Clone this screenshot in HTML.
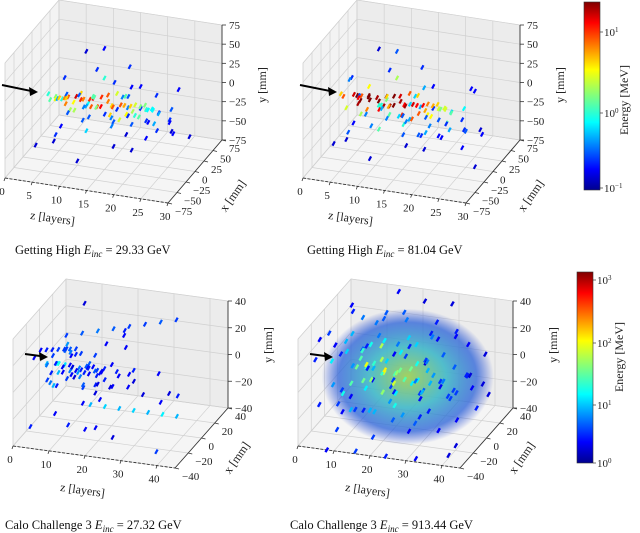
<!DOCTYPE html>
<html><head><meta charset="utf-8">
<style>
html,body{margin:0;padding:0;background:#fff;}
svg{display:block;font-family:"Liberation Serif",serif;}
.tk{font-size:11px;fill:#222;}
.al{font-size:12px;fill:#222;}
.tt{font-size:12.5px;fill:#111;}
</style></head><body>
<svg id="fig" width="640" height="533" viewBox="0 0 640 533" xmlns="http://www.w3.org/2000/svg">
<defs>
<linearGradient id="jetv" x1="0" y1="1" x2="0" y2="0">
<stop offset="0" stop-color="#00008f"/><stop offset="0.11" stop-color="#0000ff"/>
<stop offset="0.36" stop-color="#00ffff"/><stop offset="0.5" stop-color="#7fff7f"/>
<stop offset="0.64" stop-color="#ffff00"/><stop offset="0.89" stop-color="#ff0000"/>
<stop offset="1" stop-color="#800000"/></linearGradient>
<radialGradient id="haze"><stop offset="0" stop-color="#a0d058" stop-opacity="0.95"/><stop offset="0.45" stop-color="#40b8c8" stop-opacity="0.9"/><stop offset="0.8" stop-color="#2860d8" stop-opacity="0.75"/><stop offset="1" stop-color="#2040d0" stop-opacity="0"/></radialGradient>
</defs>
<g id="layer"></g>
</svg>
<script>
// ---- data (z [layer], x [mm], y [mm], log10 Energy [MeV]) ----
const zTicks1=[0,5,10,15,20,25,30];
const xyTicks1=[-75,-50,-25,0,25,50,75];
const zTicks3=[0,10,20,30,40];
const xyTicks3=[-40,-20,0,20,40];
const titles=["29.33","81.04","27.32","913.44"];
const pts1=[[3,0,-3,0.0],[4,5,-8,0.2],[5,-10,-2,0.5],[5,8,-12,0.0],[6,0,-5,0.8],[6,-20,5,-0.3],[7,10,-15,0.5],[7,-5,0,0.9],[8,15,-5,0.6],[8,-15,-10,0.3],[9,0,-4,1.0],[9,20,-20,-0.1],[10,-8,2,0.8],[10,10,-8,1.0],[11,-25,-15,-0.5],[11,5,-3,1.1],[12,0,-10,0.9],[12,-12,10,0.1],[13,15,-2,0.9],[13,-5,-6,1.1],[14,25,-25,-0.6],[14,0,-1,0.8],[15,-10,-12,0.6],[15,10,5,0.4],[16,5,-6,0.9],[16,-20,-20,-0.4],[17,0,-3,0.7],[17,20,10,-0.7],[18,-10,-8,0.5],[18,8,-14,0.3],[19,0,0,0.4],[19,-25,-25,-0.8],[20,12,-6,0.2],[20,-5,-12,0.1],[21,0,-4,0.0],[22,20,-18,-0.6],[22,-10,2,-0.1],[23,5,-10,-0.3],[24,-15,-20,-0.6],[25,10,-5,-0.5],[26,0,-30,-0.7],[27,-20,-15,-0.8],[28,15,-40,-0.8],[8,-30,40,-0.6],[10,0,60,-0.8],[12,20,55,-0.7],[9,-40,25,-0.5],[14,-10,35,0.0],[16,30,30,-0.6],[18,-20,20,-0.4],[20,0,25,-0.7],[22,-30,15,-0.6],[13,30,-45,-0.5],[6,-30,-45,-0.8],[4,20,-55,-0.7],[11,-40,-60,-0.8],[19,30,-60,-0.7],[24,20,-25,-0.6],[26,-10,-10,-0.7],[21,-40,-35,-0.8],[15,40,-30,-0.4],[7,-40,-30,-0.6],[10,30,20,-0.6],[17,-30,-40,-0.8],[23,-30,0,-0.6],[25,30,10,-0.7],[12,-30,-25,-0.2],[8,30,-30,-0.3],[2,-20,-60,-0.8],[6,5,-8,0.6],[7,-12,-5,0.8],[8,2,-2,1.2],[9,-18,-8,0.3],[10,22,-12,0.1],[11,-2,-10,0.9],[12,12,-4,1.0],[13,-18,0,0.2],[14,10,-12,0.6],[15,-2,-6,0.9],[16,18,-2,0.1],[17,-14,-14,0.4],[18,2,-4,0.6],[19,14,-10,0.2],[20,-16,-4,0.0],[21,16,-12,-0.1],[22,4,-6,-0.1],[23,-8,-16,-0.3],[5,0,-6,0.6],[4,-10,-4,0.1],[9,8,-18,-0.4],[11,-8,-20,-0.5],[13,6,-22,-0.6],[15,-6,-18,-0.4],[17,10,-22,-0.6],[19,-10,-20,-0.5],[21,6,-24,-0.7],[7,-6,-20,-0.5],[10,-20,14,-0.5],[14,18,14,-0.6],[18,-4,12,-0.5],[22,14,8,-0.6]];
const pts2=[[2,0,-4,0.6],[3,-8,-2,0.9],[4,6,-6,1.2],[4,-15,-12,0.4],[5,0,-3,1.4],[5,12,-10,0.9],[6,-6,-5,1.4],[6,18,0,0.5],[7,2,-4,1.4],[7,-20,-14,0.3],[8,10,-8,1.3],[8,-10,0,1.4],[9,0,-6,1.4],[9,22,-16,0.2],[10,-14,-8,1.1],[10,6,-2,1.4],[11,0,-10,1.3],[11,-24,4,0.0],[12,14,-4,1.2],[12,-4,-6,1.4],[13,26,-20,-0.2],[13,0,-2,1.3],[14,-12,-12,1.0],[14,10,4,0.9],[15,4,-6,1.2],[15,-22,-18,0.0],[16,0,-4,1.1],[16,20,8,-0.3],[17,-10,-8,0.9],[17,8,-14,0.7],[18,0,0,0.8],[18,-26,-26,-0.5],[19,12,-6,0.6],[19,-6,-12,0.5],[20,0,-4,0.4],[21,20,-18,-0.2],[21,-10,2,0.2],[22,5,-10,0.1],[23,-15,-20,-0.3],[24,10,-5,-0.1],[25,0,-28,-0.5],[26,-20,-14,-0.6],[27,15,-38,-0.7],[28,-5,-20,-0.8],[6,-30,38,-0.6],[9,0,62,-0.8],[11,20,50,-0.5],[8,-40,22,-0.5],[13,-10,34,0.3],[15,30,28,-0.6],[17,-20,20,-0.2],[19,0,24,-0.7],[21,-30,14,-0.6],[12,30,-46,-0.4],[5,-30,-44,-0.8],[3,20,-52,-0.7],[10,-40,-58,-0.8],[18,30,-58,-0.7],[23,20,-26,-0.6],[25,-10,-44,-0.7],[20,-40,-35,-0.8],[14,40,-30,-0.3],[6,-40,-28,-0.5],[9,30,18,-0.6],[16,-30,-40,-0.8],[22,-30,0,-0.5],[24,30,10,-0.7],[11,-30,-24,0.1],[7,30,-30,0.0],[2,-20,-58,-0.8],[5,4,-8,1.1],[6,-12,-6,1.3],[7,2,-2,1.4],[8,-18,-8,0.8],[9,22,-12,0.6],[10,-2,-10,1.3],[11,12,-4,1.4],[12,-18,0,0.7],[13,10,-12,1.1],[14,-2,-6,1.3],[15,18,-2,0.6],[16,-14,-14,0.9],[17,2,-4,1.1],[18,14,-10,0.7],[19,-16,-4,0.5],[20,16,-12,0.4],[21,4,-6,0.4],[22,-8,-16,0.1],[12,10,-28,-0.2],[14,-8,-40,-0.5],[16,12,-50,-0.6],[18,-6,-34,-0.3],[20,8,-46,-0.7],[8,-6,-36,-0.4],[10,14,-30,0.1],[4,-6,20,-0.4],[26,10,20,-0.7],[28,-20,-60,-0.8],[9,8,-20,-0.3],[11,-8,-22,-0.4],[13,6,-24,-0.5],[15,-6,-20,-0.3],[17,10,-24,-0.5],[19,-10,-22,-0.4],[21,6,-26,-0.6],[7,-6,-22,-0.4]];
const pts3=[[2,0,0,1.0],[3,-5,2,0.8],[4,5,-2,1.2],[4,-10,-6,0.6],[5,2,0,1.3],[5,12,4,0.7],[6,-4,-3,1.0],[6,8,8,0.6],[7,0,1,1.2],[7,-12,-8,0.5],[8,6,-4,0.9],[8,-6,4,1.1],[9,0,-1,1.0],[9,14,-10,0.5],[10,-8,2,0.8],[10,4,-6,0.9],[11,0,0,0.8],[11,-14,10,0.4],[12,10,-2,0.7],[12,-4,-4,0.8],[13,16,-14,0.5],[13,0,2,0.7],[14,-10,-8,0.6],[14,8,6,0.6],[15,2,-2,0.7],[15,-16,-16,0.4],[16,0,0,0.6],[16,14,12,0.4],[17,-8,-6,0.5],[17,6,-10,0.5],[18,0,2,0.5],[19,-12,-14,0.4],[20,8,-4,0.5],[21,-4,-8,0.4],[22,0,-2,0.4],[24,12,-12,0.3],[26,-6,4,0.4],[28,4,-16,0.3],[4,-20,22,0.4],[6,-22,24,0.5],[8,-24,26,0.5],[10,-26,28,0.6],[12,-28,30,0.6],[14,-30,32,0.7],[16,-32,34,0.6],[6,8,18,0.6],[10,10,20,0.7],[14,12,22,0.8],[18,14,24,0.7],[22,16,26,0.6],[26,18,28,0.6],[30,20,30,0.7],[34,22,32,0.6],[16,-10,-20,1.0],[20,-10,-20,1.1],[24,-10,-20,1.0],[28,-10,-20,1.1],[32,-10,-20,1.0],[36,-10,-20,1.2],[40,-10,-20,1.0],[8,-20,-24,0.4],[12,-22,-30,0.5],[16,-18,-34,0.4],[20,-24,-28,0.4],[24,-20,-36,0.3],[30,20,-30,0.4],[34,24,-26,0.5],[38,-30,-36,0.6],[6,20,-20,0.3],[9,24,-14,0.4],[12,-30,14,0.4],[15,-32,20,0.3],[18,30,10,0.4],[22,-26,16,0.3],[3,-30,-30,0.5],[5,-35,25,0.4],[7,30,30,0.3],[20,20,20,0.5],[24,0,20,0.4],[28,-10,10,0.5],[32,6,0,0.4],[36,0,-10,0.3],[3,0,-14,0.8],[5,-6,-12,1.0],[7,4,14,0.9],[9,-2,12,0.8],[11,6,-16,0.7],[13,-8,16,0.6],[10,30,-36,0.3],[18,36,-32,0.4],[3,4,4,0.6],[4,-4,-4,0.5],[5,8,-6,0.4],[6,-8,6,0.5],[7,10,2,0.4],[8,-2,-8,0.6],[9,6,6,0.5],[10,-6,-2,0.4],[11,8,-8,0.5],[12,-10,4,0.4],[13,4,-6,0.4],[14,-2,2,0.5],[15,10,-8,0.4],[16,-6,6,0.4],[17,2,-2,0.4],[18,-10,-4,0.3],[19,6,2,0.4],[20,-2,-10,0.3]];
const pts4=[[3,-30,20,0.5],[3,10,-25,0.6],[3,-5,5,1.2],[3,25,30,0.4],[5,-35,-10,0.5],[5,15,15,1.0],[5,0,-35,0.4],[5,-20,35,0.6],[5,30,-5,0.7],[7,-10,-15,1.3],[7,20,25,0.8],[7,-25,0,0.9],[7,5,38,0.5],[7,35,-30,0.4],[9,0,0,1.6],[9,-15,20,1.1],[9,25,-15,1.0],[9,-30,-30,0.6],[9,10,-38,0.5],[11,-5,10,1.5],[11,15,-5,1.4],[11,-20,-20,1.0],[11,30,20,0.7],[11,-35,30,0.5],[13,0,-8,1.7],[13,-12,-2,1.6],[13,20,10,1.2],[13,-28,18,0.9],[13,8,30,0.8],[13,30,-30,0.6],[15,5,5,1.8],[15,-18,12,1.4],[15,22,-20,1.1],[15,-6,-28,1.0],[15,-35,-10,0.6],[15,12,36,0.7],[17,-2,0,1.9],[17,14,-10,1.5],[17,-24,-16,1.0],[17,28,28,0.7],[17,-10,32,0.8],[17,36,-2,0.5],[19,6,-4,1.7],[19,-16,8,1.4],[19,24,12,1.1],[19,-30,-32,0.6],[19,0,-36,0.7],[19,-38,24,0.5],[21,0,2,1.6],[21,18,-18,1.2],[21,-20,20,1.1],[21,30,-32,0.6],[21,-8,-20,1.3],[21,10,34,0.8],[23,-4,-2,1.5],[23,14,14,1.1],[23,-26,-6,0.9],[23,24,-26,0.7],[23,-14,30,0.8],[23,36,10,0.5],[25,4,6,1.3],[25,-18,-20,0.9],[25,20,-8,1.0],[25,-32,14,0.6],[25,8,-36,0.5],[27,-6,0,1.2],[27,16,20,0.8],[27,-24,28,0.6],[27,28,-20,0.6],[27,-10,-30,0.7],[29,2,-6,1.0],[29,-20,8,0.8],[29,22,4,0.7],[29,-30,-24,0.4],[29,12,34,0.5],[31,-4,4,0.9],[31,18,-24,0.6],[31,-16,22,0.6],[31,30,14,0.4],[33,0,-2,0.8],[33,-22,-12,0.5],[33,20,24,0.5],[33,-8,34,0.4],[35,6,6,0.7],[35,-18,-28,0.4],[35,24,-10,0.5],[37,-2,-8,0.6],[37,16,18,0.4],[37,-26,10,0.4],[39,4,2,0.5],[39,-12,-22,0.4],[41,0,-4,0.4],[41,20,10,0.3],[8,-40,-40,0.4],[12,40,-40,0.5],[16,-40,-38,0.6],[20,36,-40,0.4],[24,-38,-40,0.5],[28,38,-38,0.6],[32,-36,-40,0.4],[36,34,-40,0.5],[40,-30,-38,0.3],[10,-38,38,0.4],[14,36,38,0.4],[18,-34,38,0.5],[22,32,36,0.3],[26,-36,36,0.4],[30,30,38,0.3],[34,-32,30,0.3],[6,0,18,1.0],[10,8,-20,1.2],[14,-6,22,1.3],[18,10,-22,1.2],[22,-4,18,1.2],[26,6,-16,1.0],[30,-8,16,0.8],[34,10,-14,0.6],[12,-2,4,2.0],[16,4,-2,2.1],[20,-4,-6,1.9],[14,10,12,1.8],[18,-10,-10,1.7],[24,0,4,1.6],[8,14,4,1.4],[10,-14,-4,1.5],[6,-12,-22,0.6],[4,18,-34,0.4],[2,-18,28,0.4],[44,0,0,0.3],[43,-14,14,0.3],[43,14,-16,0.3],[42,-30,-30,0.3]];
// ---- rendering ----
const NS="http://www.w3.org/2000/svg";
const layer=document.getElementById('layer');
function mk(tag,attrs,parent,text){const e=document.createElementNS(NS,tag);for(const k in attrs)e.setAttribute(k,attrs[k]);if(text!==undefined)e.textContent=text;(parent||layer).appendChild(e);return e;}
function clamp(v){return Math.max(0,Math.min(1,v));}
function jet(t){t=clamp(t);const r=clamp(1.5-Math.abs(4*t-3)),g=clamp(1.5-Math.abs(4*t-2)),b=clamp(1.5-Math.abs(4*t-1));return `rgb(${Math.round(r*255)},${Math.round(g*255)},${Math.round(b*255)})`;}
function makeAxes(cfg){
  const z0=cfg.zr[0],z1=cfg.zr[1],x0=cfg.xr[0],x1=cfg.xr[1],y0=cfg.yr[0],y1=cfg.yr[1];
  return function(z,x,y){const a=(z-z0)/(z1-z0),b=(x-x0)/(x1-x0),c=(y-y0)/(y1-y0);
    return [cfg.O[0]+cfg.Z[0]*a+cfg.X[0]*b+cfg.Y[0]*c, cfg.O[1]+cfg.Z[1]*a+cfg.X[1]*b+cfg.Y[1]*c];};
}
function poly(ps,fill,name,g){const e=mk('polygon',{points:ps.map(p=>p.join(',')).join(' '),fill:fill,stroke:'#e2e2e2','stroke-width':0.6},g);
  
  }
function line(a,b,st,sw,g,dash){const e=mk('line',{x1:a[0],y1:a[1],x2:b[0],y2:b[1],stroke:st,'stroke-width':sw},g);if(dash)e.setAttribute('stroke-dasharray',dash);return e;}
function panel(cfg){
  const g=mk('g',{});
  
  
  const P=makeAxes(cfg);const z0=cfg.zr[0],z1=cfg.zr[1],x0=cfg.xr[0],x1=cfg.xr[1],y0=cfg.yr[0],y1=cfg.yr[1];
  poly([P(z0,x0,y0),P(z0,x1,y0),P(z0,x1,y1),P(z0,x0,y1)],'#f3f3f3','left-pane',g);
  poly([P(z0,x1,y0),P(z1,x1,y0),P(z1,x1,y1),P(z0,x1,y1)],'#ececec','back-pane',g);
  poly([P(z0,x0,y0),P(z1,x0,y0),P(z1,x1,y0),P(z0,x1,y0)],'#f5f5f5','floor-pane',g);
  const gc='#d0d0d0';
  cfg.zt.forEach(z=>{line(P(z,x1,y0),P(z,x1,y1),gc,0.7,g);line(P(z,x0,y0),P(z,x1,y0),gc,0.7,g);});
  cfg.xt.forEach(x=>{line(P(z0,x,y0),P(z0,x,y1),gc,0.7,g);line(P(z0,x,y0),P(z1,x,y0),gc,0.7,g);});
  cfg.yt.forEach(y=>{line(P(z0,x1,y),P(z1,x1,y),gc,0.7,g);line(P(z0,x0,y),P(z0,x1,y),gc,0.7,g);});
  if(cfg.haze){const c=P(cfg.haze[0],cfg.haze[1],cfg.haze[2]);const h=mk('ellipse',{cx:c[0],cy:c[1],rx:cfg.haze[3],ry:cfg.haze[4],fill:'url(#haze)'},g);
    
    }
  line(P(z0,x0,y0),P(z1,x0,y0),'#333',0.9,g,'3,1.5');
  line(P(z1,x0,y0),P(z1,x1,y0),'#333',0.9,g);
  line(P(z1,x1,y0),P(z1,x1,y1),'#333',0.9,g);
  cfg.zt.forEach(z=>{const p=P(z,x0,y0);line(p,[p[0]-1,p[1]+3],'#333',0.8,g);
    const t=mk('text',{x:p[0]-3,y:p[1]+17,'text-anchor':'middle',class:'tk'},g,String(z));
    
    });
  cfg.xt.forEach(x=>{const p=P(z1,x,y0);line(p,[p[0]+4,p[1]+1],'#333',0.8,g);
    const t=mk('text',{x:p[0]+7,y:p[1]+12,'text-anchor':'start',class:'tk'},g,String(x).replace('-','\u2212'));
    
    });
  cfg.yt.forEach(y=>{const p=P(z1,x1,y);line(p,[p[0]+4,p[1]],'#333',0.8,g);
    const t=mk('text',{x:p[0]+7,y:p[1]+4,'text-anchor':'start',class:'tk'},g,String(y).replace('-','\u2212'));
    
    });
  const d=cfg.d;
  cfg.pts.forEach(q=>{const a=P(q[0],q[1]-d,q[2]),b=P(q[0],q[1]+d,q[2]);
    const col=jet((q[3]-cfg.er[0])/(cfg.er[1]-cfg.er[0]));
    const e=line([a[0],a[1]+0.8],[b[0],b[1]-0.8],col,cfg.sw,g);
    
    });
  const ar=mk('g',{},g);
  
  
  const A=cfg.arrow;mk('line',{x1:A[0],y1:A[1],x2:A[2]-6,y2:A[3]-0.8,stroke:'#000','stroke-width':2},ar);
  mk('polygon',{points:`${A[2]},${A[3]} ${A[2]-9},${A[3]-5} ${A[2]-8},${A[3]+4}`,fill:'#000'},ar);
  const L=cfg.lab;
  const zl=mk('text',{x:L[0],y:L[1],'text-anchor':'middle',class:'al',transform:`rotate(8 ${L[0]} ${L[1]})`},g,'z [layers]');
  
  
  const xl=mk('text',{x:L[2],y:L[3],'text-anchor':'middle',class:'al',transform:`rotate(-55 ${L[2]} ${L[3]})`},g,'x [mm]');
  
  
  const yl=mk('text',{x:L[4],y:L[5],'text-anchor':'middle',class:'al',transform:`rotate(-90 ${L[4]} ${L[5]})`},g,'y [mm]');
  
  
  const tt=mk('text',{x:cfg.title[0],y:cfg.title[1],class:'tt'},g);
  
  
  mk('tspan',{},tt,cfg.title[2]+' ');
  mk('tspan',{'font-style':'italic'},tt,'E');
  mk('tspan',{'font-style':'italic','font-size':'9',dy:'3'},tt,'inc');
  mk('tspan',{dy:'-3'},tt,' = '+cfg.title[3]+' GeV');
}
const cfgTop={zr:[0,30],xr:[-75,75],yr:[-75,75],Z:[163,25],X:[54,-63],Y:[0,-115],zt:zTicks1,xt:xyTicks1,yt:xyTicks1,d:3.2,sw:2.2,er:[-1,1.4]};
const cfgBot={zr:[0,45],xr:[-40,40],yr:[-40,40],Z:[162,22],X:[53,-60],Y:[0,-107],zt:zTicks3,xt:xyTicks3,yt:xyTicks3,d:1.8,sw:2.2,er:[0,3.3]};
panel(Object.assign({},cfgTop,{name:'panel-getting-high-29',O:[5,178],pts:pts1,arrow:[2,85,38,92],lab:[52,222,236,198,266,85],title:[15,254,'Getting High',titles[0]]}));
panel(Object.assign({},cfgTop,{name:'panel-getting-high-81',O:[303,178],pts:pts2,arrow:[300,85,337,92],lab:[350,222,534,198,564,85],title:[307,254,'Getting High',titles[1]]}));
panel(Object.assign({},cfgBot,{name:'panel-calo-challenge-27',O:[13,446],pts:pts3,arrow:[25,354,48,357],lab:[82,494,240,460,272,345],title:[5,529,'Calo Challenge 3',titles[2]]}));
panel(Object.assign({},cfgBot,{name:'panel-calo-challenge-913',O:[298,446],pts:pts4,sw:2.4,d:2,haze:[22,6,-6,86,68],arrow:[310,354,333,357],lab:[367,494,525,460,557,345],title:[290,529,'Calo Challenge 3',titles[3]]}));
function cbar(x,y,w,h,labels,ys,lx,ly,name){
  const g=mk('g',{});
  
  
  mk('rect',{x:x,y:y,width:w,height:h,fill:'url(#jetv)',stroke:'#333','stroke-width':0.6},g);
  labels.forEach((l,i)=>{mk('line',{x1:x+w,y1:ys[i],x2:x+w+3,y2:ys[i],stroke:'#333','stroke-width':0.7},g);
    const t=mk('text',{x:x+w+4,y:ys[i]+4,class:'tk','font-size':'10'},g);
    
    
    mk('tspan',{},t,'10');
    mk('tspan',{'font-size':'7',dy:'-4'},t,l);});
  const t=mk('text',{x:lx,y:ly,'text-anchor':'middle',class:'al',transform:`rotate(-90 ${lx} ${ly})`},g,'Energy [MeV]');
  
  
}
cbar(584,2,16,188,['1','0','\u22121'],[32,113,188],628,100,'colorbar-top');
cbar(577,272,16,191,['3','2','1','0'],[280,343,405,463],623,357,'colorbar-bottom');
</script>
</body></html>
